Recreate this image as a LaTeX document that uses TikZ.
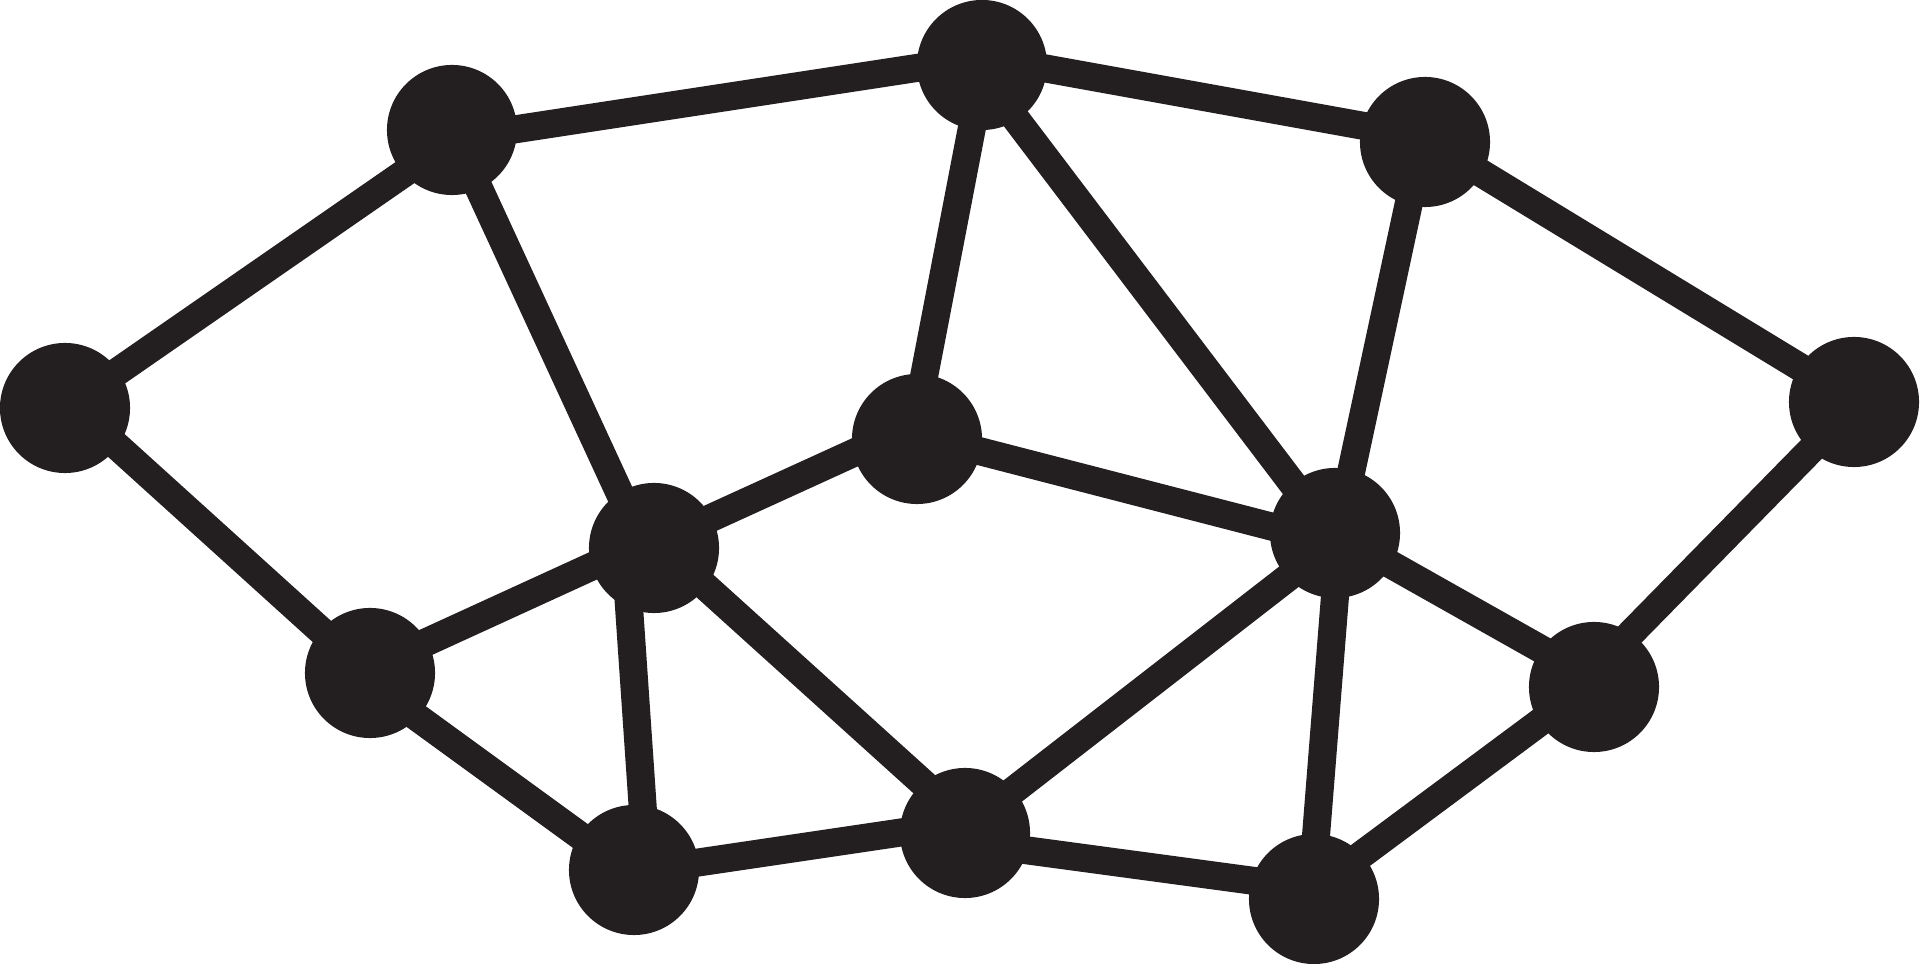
\documentclass[tikz,border=0pt]{standalone}
\definecolor{ink}{HTML}{231F20}
\begin{document}
\begin{tikzpicture}[x=0.01cm,y=-0.01cm,
  dot/.style={circle,fill=ink,minimum size=1.3cm,inner sep=0pt},
  link/.style={draw=ink,line width=0.28cm}]
\useasboundingbox (0,0) rectangle (1920,964);
\coordinate (A) at (65,408);
\coordinate (B) at (452,130);
\coordinate (C) at (982,65);
\coordinate (D) at (1425,142);
\coordinate (E) at (1854,402);
\coordinate (F) at (917,439);
\coordinate (G) at (654,548);
\coordinate (H) at (1335,533);
\coordinate (I) at (370,673);
\coordinate (J) at (1594,687);
\coordinate (K) at (634,870);
\coordinate (L) at (965,833);
\coordinate (M) at (1314,899);
\foreach \a/\ax/\ay/\b/\bx/\by in {
  A/0/0/B/0/10, A/0/-9/I/0/2, B/0/9/C/0/-7, B/0/0/G/-9/0,
  C/0/-8/D/0/-5, C/2/0/F/-5/0, C/-7/0/H/-5/0, D/0/-3/E/0/-2,
  D/-3/0/H/3/0, E/0/4/J/0/-16, F/0/-15/G/0/-4, F/0/-4/H/0/10,
  G/0/-10/I/0/-5, G/-29/0/K/13/0, G/0/-8/L/0/-12, H/0/8/L/0/-5,
  H/0/0/J/0/-8, H/5/0/M/-3/0, I/0/10/K/0/5, K/0/2/L/0/-10,
  L/0/9/M/0/-10, M/0/-9/J/0/-5}
  \draw[link] ([shift={(\ax,\ay)}]\a) -- ([shift={(\bx,\by)}]\b);
\foreach \n in {A,B,C,D,E,F,G,H,I,J,K,L,M}
  \node[dot] (n\n) at (\n) {};
\end{tikzpicture}
\end{document}
